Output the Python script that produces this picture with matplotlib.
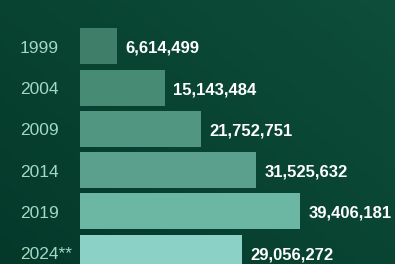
import matplotlib.pyplot as plt
import numpy as np
from matplotlib.colors import LinearSegmentedColormap

# data
years = ["1999", "2004", "2009", "2014", "2019", "2024**"]
votes = [6614499, 15143484, 21752751, 31525632, 39406181, 29056272]
bar_colors = ["#3f7e69", "#478b75", "#509681", "#5ba08c", "#6cb6a4", "#8bd1c5"]

fig = plt.figure(figsize=(3.95, 2.64), dpi=100)

# background: dark green, a bit darker towards bottom-left
bg_ax = fig.add_axes([0, 0, 1, 1])
gx, gy = np.meshgrid(np.linspace(0, 1, 200), np.linspace(0, 1, 140))
grad = 0.55 * gx + 0.45 * gy
cmap = LinearSegmentedColormap.from_list("bg", ["#04392a", "#0e4e3a"])
bg_ax.imshow(grad, cmap=cmap, aspect="auto", origin="lower", extent=[0, 1, 0, 1])
bg_ax.axis("off")

# axes starts where the bars start (x=80px) and runs to the right edge
ax = fig.add_axes([80 / 395, 0, 315 / 395, 1])
ax.patch.set_alpha(0)

y = np.arange(len(years))
votes_m = np.array(votes) / 1e6
ax.barh(y, votes_m, height=0.875, color=bar_colors, left=0)

# pixel scale: about 5.58 px per million
ax.set_xlim(0, 315 / 5.58)
ax.set_ylim((264 - 46.3) / 41.25, -46.3 / 41.25)
ax.axis("off")

for i, (yr, v) in enumerate(zip(years, votes)):
    ax.text(votes_m[i] + 1.5, i + 0.05, "{:,}".format(v), color="white",
            fontsize=12, fontweight="bold", family=["Liberation Sans", "DejaVu Sans"],
            ha="left", va="center")
    ax.text(-60 / 5.58, i + 0.05, yr, color="#a3d8c4", fontsize=12.5,
            family=["Liberation Sans", "DejaVu Sans"], ha="left", va="center")

fig.savefig("out.png", dpi=100)
